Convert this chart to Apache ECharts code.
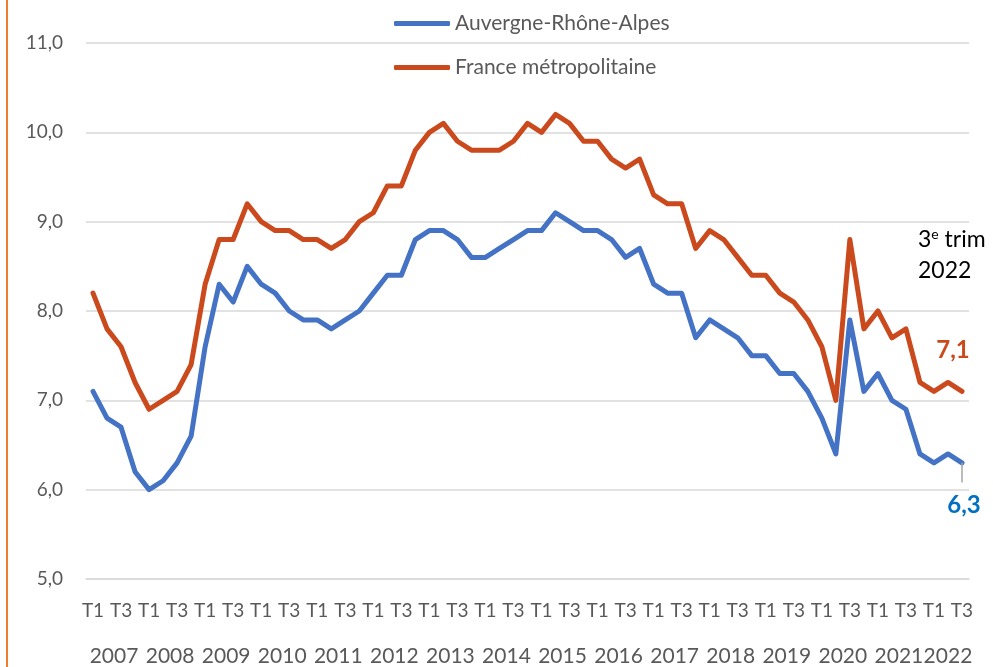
<!DOCTYPE html>
<html>
<head>
<meta charset="utf-8">
<script src="https://cdn.jsdelivr.net/npm/echarts@6/dist/echarts.min.js"></script>
<style>
    html, body { margin: 0; padding: 0; background: #fff; }
    #chart { width: 993px; height: 667px; }
</style>
</head>
<body>
<div id="chart"></div>
<script>
// années et trimestres affichés
var years = ['2007', '2008', '2009', '2010', '2011', '2012', '2013', '2014', '2015', '2016', '2017', '2018', '2019', '2020', '2021', '2022'];
var quarters = ['T1', 'T2', 'T3', 'T4'];
// nombre de trimestres publiés par année (2022 : jusqu'au T3)
var quarterCount = [4, 4, 4, 4, 4, 4, 4, 4, 4, 4, 4, 4, 4, 4, 4, 3];

// taux de chômage (%)
var auvergneRhoneAlpes = [
    7.1, 6.8, 6.7, 6.2, 6.0, 6.1, 6.3, 6.6, 7.6, 8.3, 8.1, 8.5, 8.3, 8.2, 8.0, 7.9,
    7.9, 7.8, 7.9, 8.0, 8.2, 8.4, 8.4, 8.8, 8.9, 8.9, 8.8, 8.6, 8.6, 8.7, 8.8, 8.9,
    8.9, 9.1, 9.0, 8.9, 8.9, 8.8, 8.6, 8.7, 8.3, 8.2, 8.2, 7.7, 7.9, 7.8, 7.7, 7.5,
    7.5, 7.3, 7.3, 7.1, 6.8, 6.4, 7.9, 7.1, 7.3, 7.0, 6.9, 6.4, 6.3, 6.4, 6.3
];
var franceMetropolitaine = [
    8.2, 7.8, 7.6, 7.2, 6.9, 7.0, 7.1, 7.4, 8.3, 8.8, 8.8, 9.2, 9.0, 8.9, 8.9, 8.8,
    8.8, 8.7, 8.8, 9.0, 9.1, 9.4, 9.4, 9.8, 10.0, 10.1, 9.9, 9.8, 9.8, 9.8, 9.9, 10.1,
    10.0, 10.2, 10.1, 9.9, 9.9, 9.7, 9.6, 9.7, 9.3, 9.2, 9.2, 8.7, 8.9, 8.8, 8.6, 8.4,
    8.4, 8.2, 8.1, 7.9, 7.6, 7.0, 8.8, 7.8, 8.0, 7.7, 7.8, 7.2, 7.1, 7.2, 7.1
];

var COLOR_ARA = '#4472C4';
var COLOR_FR = '#CB4A1D';

init();

/**
 * Construit les catégories trimestrielles et le graphique
 */
function init() {
    let categories = [];
    let yearCenters = {};
    let start = 0;
    years.forEach((year, k) => {
        for (let q = 0; q < quarterCount[k]; q++) {
            categories.push(quarters[q] + ' ' + year);
        }
        yearCenters[start + quarterCount[k] / 2] = year;
        start += quarterCount[k];
    });
    let lastIndex = categories.length - 1;

    let fmt = v => v.toFixed(1).replace('.', ',');

    // étiquette de la dernière valeur
    let lastValueMark = (values, color, offset) => ({
        silent: true,
        symbol: 'circle',
        symbolSize: 1,
        itemStyle: { color: 'rgba(0,0,0,0)' },
        label: {
            show: true,
            position: 'inside',
            offset: offset,
            formatter: p => fmt(p.value),
            color: color, fontSize: 24, fontWeight: 'bold', fontFamily: 'Lato'
        },
        data: [{ coord: [lastIndex, values[lastIndex]], value: values[lastIndex] }]
    });

    let option = {
        animation: false,
        textStyle: { fontFamily: 'Lato' },
        grid: {
            left: 86, right: 24, top: 43, bottom: 88,
            outerBoundsMode: 'none'
        },
        legend: {
            orient: 'vertical',
            left: 389,
            top: 8,
            icon: 'roundRect',
            itemWidth: 56,
            itemHeight: 5,
            itemGap: 23,
            textStyle: { color: '#595959', fontSize: 21, fontFamily: 'Lato' },
            data: ['Auvergne-Rhône-Alpes', 'France métropolitaine']
        },
        graphic: [
            {
                type: 'rect',
                left: 6, top: 0,
                shape: { width: 2, height: 667 },
                style: { fill: '#ED7D31' }
            },
            {
                type: 'text',
                left: 918, top: 224,
                style: {
                    text: '3{sup|e} trim\n2022',
                    fontSize: 23, lineHeight: 31, fill: '#000', fontFamily: 'Lato',
                    rich: {
                        sup: { fontSize: 14, fill: '#000', fontFamily: 'Lato', padding: [0, 0, 10, 0] }
                    }
                }
            }
        ],
        xAxis: [
            {
                type: 'category',
                data: categories,
                boundaryGap: true,
                axisLine: { lineStyle: { color: '#D9D9D9', width: 1.5 } },
                axisTick: {
                    interval: (index) => index % 4 === 0,
                    length: 90,
                    lineStyle: { color: '#D9D9D9', width: 1.5 }
                },
                axisLabel: {
                    interval: 1,
                    margin: 22,
                    color: '#595959',
                    fontSize: 19,
                    formatter: v => v.split(' ')[0]
                }
            },
            {
                type: 'value',
                position: 'bottom',
                min: 0,
                max: categories.length,
                interval: 0.5,
                axisLine: { show: false },
                axisTick: { show: false },
                splitLine: { show: false },
                axisLabel: {
                    margin: 67,
                    color: '#595959',
                    fontSize: 21,
                    formatter: v => yearCenters[v] || ''
                }
            }
        ],
        yAxis: {
            type: 'value',
            min: 5,
            max: 11,
            interval: 1,
            axisLine: { show: false },
            axisTick: { show: false },
            splitLine: { lineStyle: { color: '#D9D9D9', width: 1.5 } },
            axisLabel: {
                margin: 23,
                color: '#595959',
                fontSize: 19,
                formatter: v => fmt(v)
            }
        },
        series: [
            {
                name: 'Auvergne-Rhône-Alpes',
                type: 'line',
                xAxisIndex: 0,
                data: auvergneRhoneAlpes,
                symbol: 'none',
                color: COLOR_ARA,
                lineStyle: { width: 5, color: COLOR_ARA, cap: 'round', join: 'round' },
                markPoint: lastValueMark(auvergneRhoneAlpes, '#0070C0', [2, 42]),
                markLine: {
                    silent: true,
                    symbol: 'none',
                    label: { show: false },
                    lineStyle: { color: '#A6A6A6', width: 1.5, type: 'solid' },
                    data: [[
                        { coord: [lastIndex, auvergneRhoneAlpes[lastIndex]] },
                        { coord: [lastIndex, auvergneRhoneAlpes[lastIndex] - 0.22] }
                    ]]
                }
            },
            {
                name: 'France métropolitaine',
                type: 'line',
                xAxisIndex: 0,
                data: franceMetropolitaine,
                symbol: 'none',
                color: COLOR_FR,
                lineStyle: { width: 5, color: COLOR_FR, cap: 'round', join: 'round' },
                markPoint: lastValueMark(franceMetropolitaine, COLOR_FR, [-9, -41])
            }
        ]
    };

    let chart = echarts.init(document.getElementById('chart'));
    chart.setOption(option);
}
</script>
</body>
</html>
